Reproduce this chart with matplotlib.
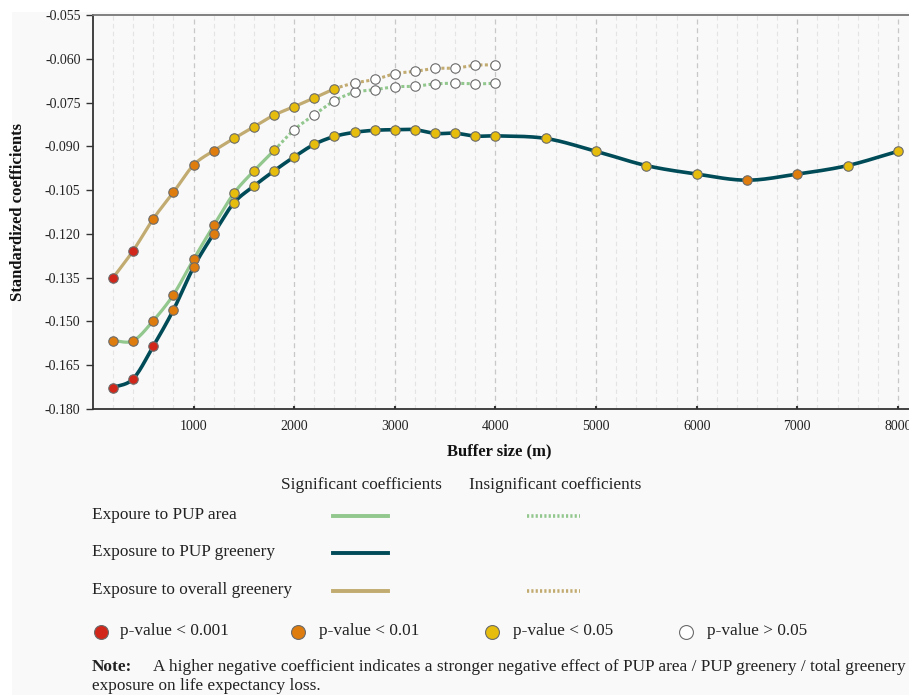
import numpy as np
import matplotlib
matplotlib.use("Agg")
import matplotlib.pyplot as plt
from matplotlib.lines import Line2D
from matplotlib.patches import Rectangle

plt.rcParams['font.family'] = ['Liberation Serif', 'DejaVu Serif']

# datos
buffer_near = [200, 400, 600, 800, 1000, 1200, 1400, 1600, 1800, 2000,
               2200, 2400, 2600, 2800, 3000, 3200, 3400, 3600, 3800, 4000]
buffer_far = buffer_near + [4500, 5000, 5500, 6000, 6500, 7000, 7500, 8000]

pup_area = [-0.1566, -0.1566, -0.1497, -0.1408, -0.1287, -0.1171, -0.1061, -0.0984, -0.0914, -0.0843,
            -0.0792, -0.0744, -0.0715, -0.0706, -0.0696, -0.0694, -0.0686, -0.0684, -0.0686, -0.0684]
pup_area_sig = [2, 2, 2, 2, 2, 2, 1, 1, 1, 0, 0, 0, 0, 0, 0, 0, 0, 0, 0, 0]

pup_green = [-0.1727, -0.1696, -0.1584, -0.1460, -0.1314, -0.1199, -0.1094, -0.1036, -0.0984, -0.0936,
             -0.0893, -0.0866, -0.0852, -0.0845, -0.0843, -0.0843, -0.0856, -0.0855, -0.0865, -0.0864,
             -0.0873, -0.0917, -0.0966, -0.0995, -0.1016, -0.0995, -0.0966, -0.0917]
pup_green_sig = [3, 3, 3, 2, 2, 2, 1, 1, 1, 1, 1, 1, 1, 1, 1, 1, 1, 1, 1, 1,
                 1, 1, 1, 1, 2, 2, 1, 1]

overall = [-0.1350, -0.1257, -0.1148, -0.1057, -0.0964, -0.0915, -0.0873, -0.0833, -0.0793, -0.0764,
           -0.0734, -0.0703, -0.0683, -0.0671, -0.0651, -0.0643, -0.0633, -0.0632, -0.0622, -0.0621]
overall_sig = [3, 3, 2, 2, 2, 2, 1, 1, 1, 1, 1, 1, 0, 0, 0, 0, 0, 0, 0, 0]

y_ticks = [-0.180, -0.165, -0.150, -0.135, -0.120, -0.105, -0.090, -0.075, -0.060, -0.045]
y_tick_labels = ['-0.180', '-0.165', '-0.150', '-0.135', '-0.120', '-0.105', '-0.090', '-0.075', '-0.060', '-0.055']
x_ticks = [1000, 2000, 3000, 4000, 5000, 6000, 7000, 8000]

c_area = '#92c78e'
c_green = '#004b58'
c_overall = '#c2ab70'
sig_colors = {3: '#d1261a', 2: '#de7c0e', 1: '#e6bd0c', 0: '#ffffff'}
sig_labels = ['p-value < 0.001', 'p-value < 0.01', 'p-value < 0.05', 'p-value > 0.05']
bg = '#f9f9f9'

W, H = 909, 695


def px(x, y):
    return x / W, 1 - y / H


def hermite(x, y, n=24):
    # curva suave entre los puntos (solo para dibujar la linea)
    x = np.asarray(x, float)
    y = np.asarray(y, float)
    m = np.zeros_like(y)
    m[1:-1] = (y[2:] - y[:-2]) / (x[2:] - x[:-2])
    m[0] = (y[1] - y[0]) / (x[1] - x[0])
    m[-1] = (y[-1] - y[-2]) / (x[-1] - x[-2])
    segs = []
    for i in range(len(x) - 1):
        h = x[i + 1] - x[i]
        t = np.linspace(0, 1, n)
        h00 = 2 * t**3 - 3 * t**2 + 1
        h10 = t**3 - 2 * t**2 + t
        h01 = -2 * t**3 + 3 * t**2
        h11 = t**3 - t**2
        ys = h00 * y[i] + h10 * h * m[i] + h01 * y[i + 1] + h11 * h * m[i + 1]
        segs.append((x[i] + t * h, ys))
    return segs


def draw_series(ax, x, y, sig, color, lw):
    segs = hermite(x, y)
    dotted = [sig[i] == 0 or sig[i + 1] == 0 for i in range(len(segs))]
    i = 0
    while i < len(segs):
        j = i
        while j + 1 < len(segs) and dotted[j + 1] == dotted[i]:
            j += 1
        xs = np.concatenate([segs[k][0] for k in range(i, j + 1)])
        ys = np.concatenate([segs[k][1] for k in range(i, j + 1)])
        if dotted[i]:
            ax.plot(xs, ys, color=color, lw=lw * 0.95, ls=(0, (1, 0.8)), zorder=2)
        else:
            ax.plot(xs, ys, color=color, lw=lw, solid_capstyle='round', zorder=2)
        i = j + 1
    for xi, yi, s in zip(x, y, sig):
        ax.plot(xi, yi, 'o', ms=6.8, mfc=sig_colors[s], mec='#6b6b6b', mew=0.8, zorder=3)


fig = plt.figure(figsize=(9.09, 6.95), dpi=100)
fig.patch.set_facecolor('white')
fig.add_artist(Rectangle((12 / W, 0), 1, 1 - 12 / H, transform=fig.transFigure,
                         facecolor=bg, edgecolor='none', zorder=-10))

x0, y0 = px(93, 409)
x1, y1 = px(909, 15)
ax = fig.add_axes([x0, y0, x1 - x0, y1 - y0])
ax.set_facecolor(bg)

# rejilla vertical
for xv in range(200, 8001, 200):
    if xv % 1000 == 0:
        ax.axvline(xv, color='#c8c8c8', lw=0.9, ls=(0, (4, 3)), zorder=0)
    else:
        ax.axvline(xv, color='#e4e4e4', lw=0.8, ls=(0, (4, 3)), zorder=0)

draw_series(ax, buffer_near, pup_area, pup_area_sig, c_area, 2.3)
draw_series(ax, buffer_near, overall, overall_sig, c_overall, 2.3)
draw_series(ax, buffer_far, pup_green, pup_green_sig, c_green, 2.6)

ax.set_xlim(0, 8110)
ax.set_ylim(-0.180, -0.045)
ax.set_yticks(y_ticks)
ax.set_yticklabels(y_tick_labels)
ax.set_xticks(x_ticks)
ax.set_xticklabels([str(v) for v in x_ticks])
ax.tick_params(axis='y', direction='out', length=5, width=1, color='#333333',
               labelsize=10, pad=4, labelcolor='#222222')
ax.tick_params(axis='x', direction='in', length=2.5, width=1.5, color='#333333',
               labelsize=10, pad=8, labelcolor='#222222')
for s in ['left', 'bottom']:
    ax.spines[s].set_color('#333333')
    ax.spines[s].set_linewidth(1.3)
ax.spines['top'].set_color('#777777')
ax.spines['top'].set_linewidth(1.3)
ax.spines['right'].set_visible(False)

fig.text(*px(18, 212), 'Standardized coefficients', rotation=90, ha='center', va='center',
         fontsize=12, fontweight='bold', color='#111111')
fig.text(*px(499, 451), 'Buffer size (m)', ha='center', va='center',
         fontsize=12, fontweight='bold', color='#111111')

# leyenda manual
tc = '#222222'
fs = 12.4
fig.text(*px(361, 485), 'Significant coefficients', ha='center', va='center', fontsize=fs, color=tc)
fig.text(*px(555, 485), 'Insignificant coefficients', ha='center', va='center', fontsize=fs, color=tc)

rows = [('Expoure to PUP area', c_area, True, 515),
        ('Exposure to PUP greenery', c_green, False, 552),
        ('Exposure to overall greenery', c_overall, True, 590)]
for label, col, has_dot, yy in rows:
    fig.text(*px(92, yy), label, ha='left', va='center', fontsize=fs, color=tc)
    xa, ya = px(333, yy + 1)
    xb, _ = px(388, yy + 1)
    fig.add_artist(Line2D([xa, xb], [ya, ya], transform=fig.transFigure, color=col, lw=2.8))
    if has_dot:
        xa, ya = px(527, yy + 1)
        xb, _ = px(580, yy + 1)
        fig.add_artist(Line2D([xa, xb], [ya, ya], transform=fig.transFigure, color=col, lw=2.6,
                              ls=(0, (0.6, 0.6))))

for k, (xm, xt) in enumerate([(101, 120), (298, 319), (492, 513), (686, 707)]):
    s = 3 - k
    xa, ya = px(xm, 632)
    fig.add_artist(Line2D([xa], [ya], transform=fig.transFigure, marker='o', ms=10,
                          mfc=sig_colors[s], mec='#6b6b6b', mew=0.8, ls='none'))
    fig.text(*px(xt, 631), sig_labels[k], ha='left', va='center', fontsize=fs, color=tc)

fig.text(*px(92, 667), 'Note:', ha='left', va='center', fontsize=fs, fontweight='bold', color=tc)
fig.text(*px(153, 667), 'A higher negative coefficient indicates a stronger negative effect of PUP area / PUP greenery / total greenery',
         ha='left', va='center', fontsize=fs, color=tc)
fig.text(*px(92, 686), 'exposure on life expectancy loss.', ha='left', va='center', fontsize=fs, color=tc)

fig.savefig('out.png', dpi=100, facecolor=fig.get_facecolor())
